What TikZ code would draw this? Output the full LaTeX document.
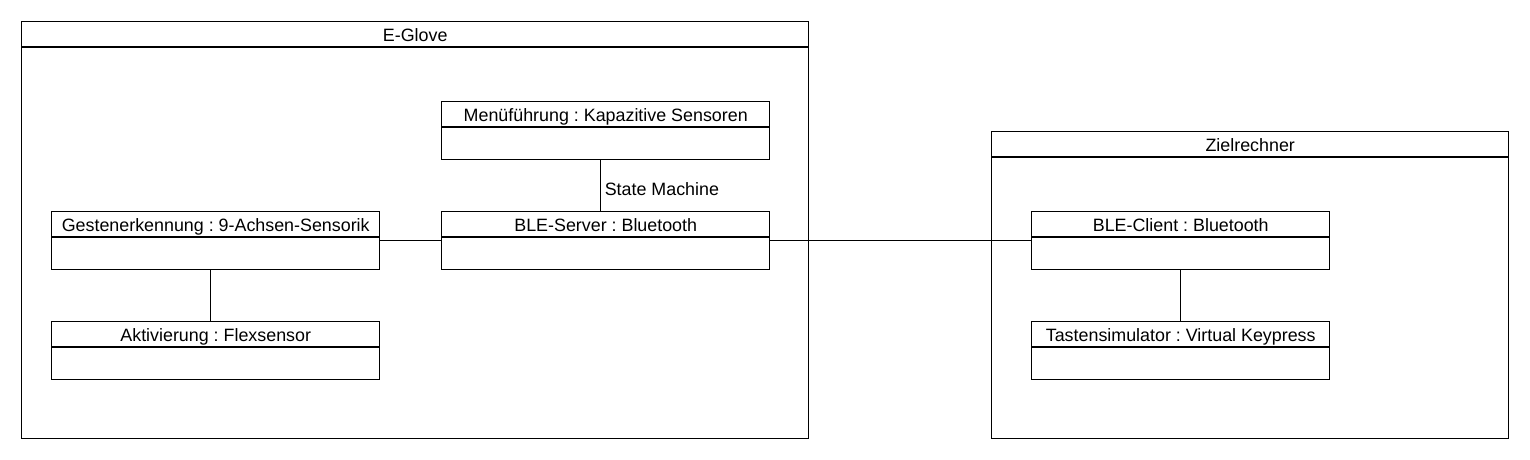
\documentclass[tikz,border=0pt]{standalone}
\usepackage{fontspec}
\setmainfont{Liberation Sans}
\frenchspacing
\usetikzlibrary{positioning, calc}
\tikzset{
    umlline/.style={draw=black, line width=1.1pt},
    partbox/.style 2 args={
        rectangle, umlline, fill=white, anchor=north west, inner sep=0pt,
        minimum width=#1*0.75pt, minimum height=#2*0.75pt
    },
    headtext/.style={font=\fontsize{13.4}{15}\selectfont, inner sep=0pt},
    conn/.style={umlline}
}
% box with header band: name, x, y, width, height, title
\newcommand{\umlpart}[6]{%
    \node[partbox={#4}{#5}] (#1) at (#2,#3) {};
    \draw[umlline] ([yshift=-19.5pt]#1.north west) -- ([yshift=-19.5pt]#1.north east);
    \node[headtext, anchor=base] (#1-title) at ([yshift=-15.3pt]#1.north) {#6};
}

\begin{document}
\begin{tikzpicture}[x=0.75pt, y=-0.75pt]
    \useasboundingbox (0,0) rectangle (1530,460);

    % containers
    \umlpart{eglove}{21}{21}{787}{417}{E-Glove}
    \umlpart{ziel}{991}{131}{517}{307}{Zielrechner}

    % E-Glove parts
    \umlpart{menu}{441}{101}{328}{58}{Menüführung : Kapazitive Sensoren}
    \umlpart{server}{441}{211}{328}{58}{BLE-Server : Bluetooth}
    \umlpart{gesten}{51}{211}{328}{58}{Gestenerkennung : 9-Achsen-Sensorik}
    \umlpart{aktiv}{51}{321}{328}{58}{Aktivierung : Flexsensor}

    % Zielrechner parts
    \umlpart{client}{1031}{211}{298}{58}{BLE-Client : Bluetooth}
    \umlpart{tasten}{1031}{321}{298}{58}{Tastensimulator : Virtual Keypress}

    % connections
    \draw[conn] ([xshift=-3.75pt]menu.south) -- ([xshift=-3.75pt]server.north)
        node[midway, right, headtext, xshift=2.5pt, yshift=-2.5pt] (sm) {State Machine};
    \draw[conn] (gesten.east) -- (server.west);
    \draw[conn] (server.east) -- (client.west);
    \draw[conn] ([xshift=-3.75pt]gesten.south) -- ([xshift=-3.75pt]aktiv.north);
    \draw[conn] (client.south) -- (tasten.north);

\end{tikzpicture}
\end{document}
